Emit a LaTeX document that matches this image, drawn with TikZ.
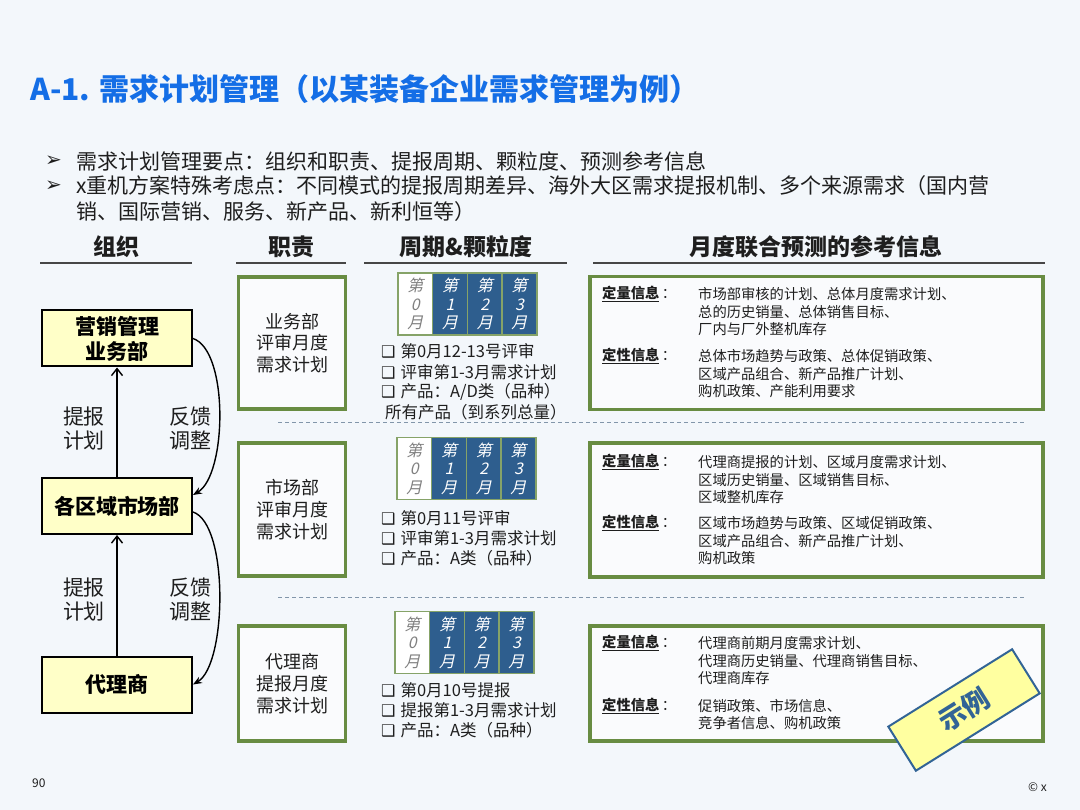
\documentclass[tikz,border=0pt]{standalone}
\usepackage{fontspec}
\setmainfont{Noto Sans CJK SC}
\newfontfamily\dejavu{DejaVu Sans}
\newfontfamily\cjkit[FakeSlant=0.22]{Noto Sans CJK SC}
\usetikzlibrary{arrows.meta}
\definecolor{bg}{RGB}{243,247,251}
\definecolor{titleblue}{RGB}{20,110,230}
\definecolor{boxgreen}{RGB}{104,140,66}
\definecolor{monthblue}{RGB}{46,94,142}
\definecolor{yellowbox}{RGB}{255,255,200}
\definecolor{dashgray}{RGB}{130,150,170}
\definecolor{stampblue}{RGB}{50,100,150}
\definecolor{stampfill}{RGB}{255,255,160}
\definecolor{txt}{RGB}{30,30,30}
\definecolor{hdrline}{RGB}{70,70,70}
\newcommand{\mycb}{{\dejavu\fontsize{16}{18}\selectfont ❑}\hspace{5pt}}
\newcommand{\mylq}{\underline{\textbf{定量信息}}\,：}
\newcommand{\mylx}{\underline{\textbf{定性信息}}\,：}
\begin{document}
\begin{tikzpicture}[x=1pt,y=-1pt,
  plain/.style={inner sep=0pt,anchor=west,text=txt},
  bul/.style={plain,font=\fontsize{21}{25}\selectfont},
  hdr/.style={inner sep=0pt,text=txt,font=\fontsize{23}{27}\selectfont\bfseries},
  hline/.style={draw=hdrline,line width=1.5pt},
  orgbox/.style={draw=black,line width=2pt,fill=yellowbox,text=black,align=center,
    minimum width=150pt,minimum height=56pt,inner sep=0pt,font=\fontsize{21}{25}\selectfont\bfseries},
  lbl/.style={inner sep=0pt,align=center,text=txt,font=\fontsize{21}{24}\selectfont},
  uparrow/.style={draw=black,line width=1.4pt,-{Straight Barb[length=7pt,width=11pt,line width=1.4pt]}},
  curvearr/.style={draw=black,line width=1.4pt,-{Stealth[length=9pt,width=7pt]}},
  dutybox/.style={draw=boxgreen,line width=3.5pt,fill=white!55!bg,text=txt,align=center,
    minimum width=107pt,inner sep=0pt,font=\fontsize{18}{21.7}\selectfont},
  sep/.style={draw=dashgray,line width=1pt,dash pattern=on 4pt off 3pt},
  mcell0/.style={draw=boxgreen!80,line width=1.5pt,fill=white,text=gray,align=center,
    minimum width=34.7pt,minimum height=62pt,inner sep=0pt,font=\cjkit\fontsize{16}{18.5}\selectfont},
  mcell/.style={mcell0,fill=monthblue,text=white},
  litem/.style={plain,font=\fontsize{16.5}{20}\selectfont},
  infobox/.style={draw=boxgreen,line width=3.5pt,fill=white!55!bg,minimum width=453pt,inner sep=0pt},
  itxt/.style={plain,font=\fontsize{14.3}{17}\selectfont},
  stamp/.style={draw=stampblue,line width=2pt,fill=stampfill,text=stampblue,
    minimum width=146pt,minimum height=52pt,inner sep=0pt,font=\fontsize{27}{30}\selectfont\bfseries}
]
\useasboundingbox (0,0) rectangle (1080,810);
\fill[bg] (0,0) rectangle (1080,810);

% title
\node[inner sep=0pt,anchor=west,text=titleblue,font=\fontsize{30}{36}\selectfont\bfseries] (title) at (30,89)
  {A-1. 需求计划管理（以某装备企业需求管理为例）};

% bullets
\node[plain,font=\dejavu\fontsize{20}{22}\selectfont] (bm1) at (45,161) {➢};
\node[plain,font=\dejavu\fontsize{20}{22}\selectfont] (bm2) at (45,186) {➢};
\node[bul] (bt1) at (76,161) {需求计划管理要点：组织和职责、提报周期、颗粒度、预测参考信息};
\node[bul] (bt2) at (76,186) {x重机方案特殊考虑点：不同模式的提报周期差异、海外大区需求提报机制、多个来源需求（国内营};
\node[bul] (bt3) at (76,212) {销、国际营销、服务、新产品、新利恒等）};

% headers
\node[hdr] (h1) at (116,247) {组织};
\node[hdr] (h2) at (291,247) {职责};
\node[hdr] (h3) at (466,247) {周期\&颗粒度};
\node[hdr] (h4) at (816,247) {月度联合预测的参考信息};
\draw[hline] (40,263) -- (192,263);
\draw[hline] (236,263) -- (346,263);
\draw[hline] (364,263) -- (567,263);
\draw[hline] (593,263) -- (1045,263);

% organisation
\node[orgbox] (o1) at (117,338.5) {营销管理\\业务部};
\node[orgbox] (o2) at (117,506) {各区域市场部};
\node[orgbox] (o3) at (117,684.5) {代理商};
\draw[uparrow] (o2.north) -- (o1.south);
\draw[uparrow] (o3.north) -- (o2.south);
\node[lbl] (l1) at (84,429) {提报\\计划};
\node[lbl] (l2) at (190,429) {反馈\\调整};
\node[lbl] (l3) at (84,600) {提报\\计划};
\node[lbl] (l4) at (190,600) {反馈\\调整};
\draw[curvearr] (o1.east) .. controls +(36,12) and +(34,-20) .. ([yshift=11pt]o2.east);
\draw[curvearr] ([yshift=-6pt]o2.east) .. controls +(36,12) and +(34,-20) .. (o3.east);

% duties
\node[dutybox,minimum height=132pt] (d1) at (292,343) {业务部\\评审月度\\需求计划};
\node[dutybox,minimum height=133pt] (d2) at (292,509.5) {市场部\\评审月度\\需求计划};
\node[dutybox,minimum height=115pt] (d3) at (292,683.5) {代理商\\提报月度\\需求计划};

% separators
\draw[sep] (278,423) -- (1025,423);
\draw[sep] (278,597) -- (1025,597);

% month tables
\foreach \r/\x/\y in {1/398/304,2/397/468.5,3/395/642.5}{
  \node[mcell0] (m\r0) at (\x+17.35,\y) {第\\0\\月};
  \foreach \i in {1,2,3}{
    \node[mcell] (m\r\i) at (\x+17.35+34.7*\i,\y) {第\\\i\\月};
  }
}

% lists
\node[litem] (p11) at (381,351) {\mycb 第0月12-13号评审};
\node[litem] (p12) at (381,372) {\mycb 评审第1-3月需求计划};
\node[litem] (p13) at (381,392) {\mycb 产品：A/D类（品种）};
\node[litem] (p14) at (385,412) {所有产品（到系列总量）};
\node[litem] (p21) at (381,518) {\mycb 第0月11号评审};
\node[litem] (p22) at (381,538) {\mycb 评审第1-3月需求计划};
\node[litem] (p23) at (381,558) {\mycb 产品：A类（品种）};
\node[litem] (p31) at (381,690) {\mycb 第0月10号提报};
\node[litem] (p32) at (381,710) {\mycb 提报第1-3月需求计划};
\node[litem] (p33) at (381,730) {\mycb 产品：A类（品种）};

% info boxes
\node[infobox,minimum height=133pt] (i1) at (816.5,343) {};
\node[infobox,minimum height=134pt] (i2) at (816.5,510) {};
\node[infobox,minimum height=115pt] (i3) at (816.5,683.5) {};

% box 1
\node[itxt] (q1) at (602,294) {\mylq};
\node[itxt] (q1a) at (698,294) {市场部审核的计划、总体月度需求计划、};
\node[itxt] (q1b) at (698,312) {总的历史销量、总体销售目标、};
\node[itxt] (q1c) at (698,329) {厂内与厂外整机库存};
\node[itxt] (x1) at (602,356) {\mylx};
\node[itxt] (x1a) at (698,356) {总体市场趋势与政策、总体促销政策、};
\node[itxt] (x1b) at (698,374) {区域产品组合、新产品推广计划、};
\node[itxt] (x1c) at (698,391) {购机政策、产能利用要求};
% box 2
\node[itxt] (q2) at (602,462) {\mylq};
\node[itxt] (q2a) at (698,462) {代理商提报的计划、区域月度需求计划、};
\node[itxt] (q2b) at (698,480) {区域历史销量、区域销售目标、};
\node[itxt] (q2c) at (698,497) {区域整机库存};
\node[itxt] (x2) at (602,523) {\mylx};
\node[itxt] (x2a) at (698,523) {区域市场趋势与政策、区域促销政策、};
\node[itxt] (x2b) at (698,541) {区域产品组合、新产品推广计划、};
\node[itxt] (x2c) at (698,558) {购机政策};
% box 3
\node[itxt] (q3) at (602,643) {\mylq};
\node[itxt] (q3a) at (698,643) {代理商前期月度需求计划、};
\node[itxt] (q3b) at (698,661) {代理商历史销量、代理商销售目标、};
\node[itxt] (q3c) at (698,678) {代理商库存};
\node[itxt] (x3) at (602,706) {\mylx};
\node[itxt] (x3a) at (698,706) {促销政策、市场信息、};
\node[itxt] (x3b) at (698,723) {竞争者信息、购机政策};

% stamp
\node[stamp,rotate=32] (st) at (964,710) {示例};

% footer
\node[plain,font=\fontsize{12}{14}\selectfont] (pg) at (32,783) {90};
\node[inner sep=0pt,anchor=east,text=txt,font=\fontsize{12}{14}\selectfont] (cp) at (1047,787) {© x};
\end{tikzpicture}
\end{document}
